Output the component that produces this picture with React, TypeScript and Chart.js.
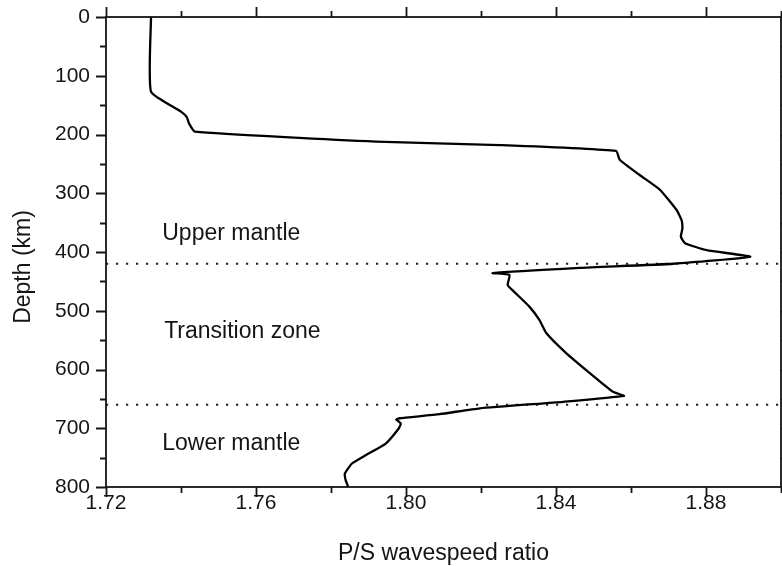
import React, { useEffect, useRef } from 'react';
import { Chart, registerables } from 'chart.js';

Chart.register(...registerables);

const depthKm = [
  0, 127, 161, 170, 182, 195, 212, 218, 228, 243, 269, 294, 329, 346, 360, 374, 385, 397, 408,
  420, 427, 436, 439, 456, 465, 493, 516, 538, 572, 606, 638, 645, 655, 666, 676, 683, 685,
  692, 700, 726, 746, 760, 777, 788, 800,
];
const psRatio = [
  1.732, 1.732, 1.740, 1.7415, 1.7422, 1.7437, 1.792, 1.825, 1.856, 1.857, 1.8623, 1.8677,
  1.8722, 1.8735, 1.8737, 1.8733, 1.8744, 1.8802, 1.8918, 1.8713, 1.8463, 1.8231, 1.8276,
  1.8271, 1.8284, 1.8329, 1.8356, 1.8374, 1.8427, 1.849, 1.8552, 1.8581, 1.8419, 1.8197,
  1.809, 1.7983, 1.7974, 1.7986, 1.7981, 1.7946, 1.7892, 1.7856, 1.7837, 1.7839, 1.7846,
];

const boundaryDepths = [420, 660];
const regionLabels = ['Upper mantle', 'Transition zone', 'Lower mantle'];
const regionLabelDepths = [380, 546, 737];
const regionLabelRatios = [1.735, 1.7355, 1.735];

const xMin = 1.72;
const xMax = 1.9;
const xStep = 0.02;
const yMin = 0;
const yMax = 800;
const yStep = 50;

const xTitle = 'P/S wavespeed ratio';
const yTitle = 'Depth (km)';

const FONT = '"Liberation Sans", Arial, Helvetica, sans-serif';
const INK = '#151515';

const framePlugin = {
  id: 'frame',
  afterDraw(chart: any) {
    const { ctx, chartArea } = chart;
    const { left, right, top, bottom } = chartArea;
    const xs = chart.scales.x;
    const ys = chart.scales.y;
    ctx.save();
    ctx.strokeStyle = INK;
    ctx.lineWidth = 1.8;
    ctx.strokeRect(left, top, right - left, bottom - top);

    // x ticks (bottom and top)
    const nx = Math.round((xMax - xMin) / xStep);
    for (let i = 0; i <= nx; i++) {
      const v = xMin + i * xStep;
      const px = Math.round(xs.getPixelForValue(v)) + 0.5;
      const len = i % 2 === 0 ? 10 : 6;
      ctx.beginPath();
      ctx.moveTo(px, bottom);
      ctx.lineTo(px, bottom + len);
      ctx.moveTo(px, top);
      ctx.lineTo(px, top - len);
      ctx.stroke();
    }
    // y ticks (left and right)
    const ny = Math.round((yMax - yMin) / yStep);
    for (let i = 0; i <= ny; i++) {
      const v = yMin + i * yStep;
      const py = Math.round(ys.getPixelForValue(v)) + 0.5;
      const len = i % 2 === 0 ? 10 : 6;
      ctx.beginPath();
      ctx.moveTo(left, py);
      ctx.lineTo(left - len, py);
      ctx.moveTo(right, py);
      ctx.lineTo(right + len, py);
      ctx.stroke();
    }

    // region labels
    ctx.fillStyle = INK;
    ctx.font = `23px ${FONT}`;
    ctx.textAlign = 'left';
    ctx.textBaseline = 'alphabetic';
    regionLabels.forEach((t, i) => {
      ctx.fillText(t, xs.getPixelForValue(regionLabelRatios[i]), ys.getPixelForValue(regionLabelDepths[i]));
    });

    // axis titles
    ctx.textAlign = 'center';
    ctx.fillText(xTitle, (left + right) / 2, 560);
    ctx.save();
    ctx.translate(30, (top + bottom) / 2 + 15);
    ctx.rotate(-Math.PI / 2);
    ctx.fillText(yTitle, 0, 0);
    ctx.restore();
    ctx.restore();
  },
};

export default function App() {
  const canvasRef = useRef<HTMLCanvasElement | null>(null);

  useEffect(() => {
    document.body.style.margin = '0';
    const canvas = canvasRef.current;
    if (!canvas) return;

    const profile = depthKm.map((d, i) => ({ x: psRatio[i], y: d }));
    const boundarySets = boundaryDepths.map((d) => ({
      label: `boundary ${d}`,
      data: [
        { x: xMin, y: d },
        { x: xMax, y: d },
      ],
      borderColor: '#222',
      borderWidth: 2.2,
      borderDash: [2.2, 7.8],
      pointRadius: 0,
      tension: 0,
    }));

    const chart = new Chart(canvas, {
      type: 'line',
      data: {
        datasets: [
          {
            label: 'P/S',
            data: profile,
            borderColor: '#000',
            borderWidth: 2.3,
            pointRadius: 0,
            tension: 0.15,
            fill: false,
          },
          ...boundarySets,
        ],
      },
      plugins: [framePlugin],
      options: {
        responsive: false,
        animation: false,
        indexAxis: 'y',
        layout: { padding: { top: 17, right: 1, left: 0, bottom: 0 } },
        plugins: {
          legend: { display: false },
          tooltip: { enabled: false },
        },
        scales: {
          x: {
            type: 'linear',
            position: 'bottom',
            min: xMin,
            max: xMax,
            grid: { display: false, drawTicks: false },
            border: { display: false },
            ticks: {
              stepSize: xStep,
              autoSkip: false,
              maxRotation: 0,
              padding: 4,
              color: INK,
              font: { family: FONT, size: 21 },
              callback: (v: any) => {
                const k = Math.round((Number(v) - xMin) / xStep);
                return k % 2 === 0 ? Number(v).toFixed(2) : '';
              },
            },
            afterFit: (s: any) => {
              s.height = 79;
              s.paddingLeft = 0;
              s.paddingRight = 0;
              s.paddingTop = 0;
              s.paddingBottom = 0;
            },
          },
          y: {
            type: 'linear',
            position: 'left',
            reverse: true,
            min: yMin,
            max: yMax,
            grid: { display: false, drawTicks: false },
            border: { display: false },
            ticks: {
              stepSize: yStep,
              autoSkip: false,
              padding: 16,
              color: INK,
              font: { family: FONT, size: 21 },
              callback: (v: any) => (Number(v) % 100 === 0 ? String(v) : ''),
            },
            afterFit: (s: any) => {
              s.width = 106;
              s.paddingLeft = 0;
              s.paddingRight = 0;
              s.paddingTop = 0;
              s.paddingBottom = 0;
            },
          },
        },
      },
    });

    return () => chart.destroy();
  }, []);

  return <canvas ref={canvasRef} width={782} height={566} style={{ display: 'block' }} />;
}
